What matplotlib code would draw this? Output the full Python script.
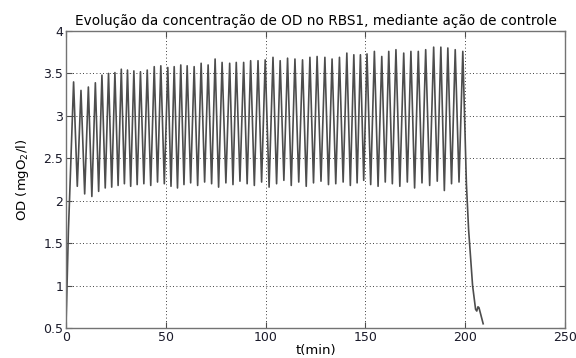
import numpy as np
import matplotlib
matplotlib.use('Agg')
import matplotlib.pyplot as plt

# values
start_t = [0.0, 0.3, 1.2, 1.7]
start_v = [0.55, 0.80, 1.65, 1.97]

peak_t = [3.8, 7.5, 11.2, 14.7, 18.0, 21.3, 24.5, 27.7, 30.8, 34.0, 37.3, 40.7, 44.2, 47.5, 51.0,
          54.2, 57.5, 60.7, 64.2, 67.7, 71.2, 74.7, 78.2, 82.0, 85.3, 89.0, 92.5, 96.2, 99.8, 103.7,
          107.3, 111.0, 114.7, 118.5, 122.2, 125.8, 129.7, 133.3, 137.0, 140.7, 144.2, 147.5, 150.8, 154.5, 158.2,
          161.7, 165.3, 169.2, 172.8, 176.5, 180.2, 184.2, 187.8, 191.3, 195.0, 198.8]
peak_v = [3.40, 3.30, 3.34, 3.39, 3.48, 3.50, 3.51, 3.55, 3.54, 3.53, 3.52, 3.54, 3.58, 3.59, 3.57,
          3.58, 3.60, 3.59, 3.58, 3.62, 3.60, 3.67, 3.63, 3.62, 3.63, 3.63, 3.65, 3.65, 3.66, 3.69,
          3.65, 3.68, 3.67, 3.66, 3.69, 3.70, 3.69, 3.67, 3.69, 3.74, 3.72, 3.72, 3.73, 3.76, 3.70,
          3.76, 3.78, 3.74, 3.76, 3.76, 3.78, 3.81, 3.81, 3.80, 3.78, 3.76]
trough_v = [2.17, 2.08, 2.05, 2.11, 2.15, 2.16, 2.18, 2.20, 2.17, 2.19, 2.20, 2.18, 2.22, 2.20, 2.17,
            2.15, 2.19, 2.21, 2.18, 2.22, 2.20, 2.16, 2.21, 2.19, 2.23, 2.20, 2.18, 2.22, 2.16, 2.20,
            2.24, 2.18, 2.22, 2.17, 2.21, 2.23, 2.19, 2.20, 2.22, 2.18, 2.21, 2.24, 2.19, 2.17, 2.22,
            2.20, 2.17, 2.22, 2.15, 2.21, 2.18, 2.23, 2.12, 2.20, 2.22]

end_t = [200.6, 201.7, 203.7, 205.2, 205.8, 206.4, 206.9, 209.0]
end_v = [2.20, 1.66, 1.00, 0.72, 0.70, 0.75, 0.74, 0.55]

xticks = [0, 50, 100, 150, 200, 250]
yticks = [0.5, 1, 1.5, 2, 2.5, 3, 3.5, 4]
ylabels = ['0.5', '1', '1.5', '2', '2.5', '3', '3.5', '4']

# troughs sit half way between neighbouring peaks
trough_t = [(a + b) / 2 for a, b in zip(peak_t[:-1], peak_t[1:])]
t = list(start_t)
v = list(start_v)
for i in range(len(peak_t)):
    t.append(peak_t[i]); v.append(peak_v[i])
    if i < len(trough_t):
        t.append(trough_t[i]); v.append(trough_v[i])
t += end_t
v += end_v

plt.rcParams['font.family'] = ['DejaVu Sans']
fig = plt.figure(figsize=(5.76, 3.58), dpi=100)
ax = fig.add_axes([0.1146, 0.0838, 0.8663, 0.8296])

ax.plot(t, v, color='0.3', lw=1.2)

ax.set_xlim(0, 250)
ax.set_ylim(0.5, 4)
ax.set_xticks(xticks)
ax.set_yticks(yticks)
ax.set_yticklabels(ylabels)
ax.grid(True, color='black', lw=0.6, linestyle=(0, (1, 3)))
ax.tick_params(direction='in', length=4, top=True, right=True, labelsize=9,
               color='0.3', labelcolor='#1a1a2a', pad=2)
for s in ax.spines.values():
    s.set_color('0.45')
    s.set_linewidth(1.0)

ax.set_title('Evolução da concentração de OD no RBS1, mediante ação de controle',
             fontsize=9.8, pad=4)
ax.set_xlabel('t(min)', fontsize=9.5, labelpad=0)
ax.set_ylabel('OD (mgO$_2$/l)', fontsize=9.5, labelpad=9)

fig.savefig('out.png', dpi=100)
